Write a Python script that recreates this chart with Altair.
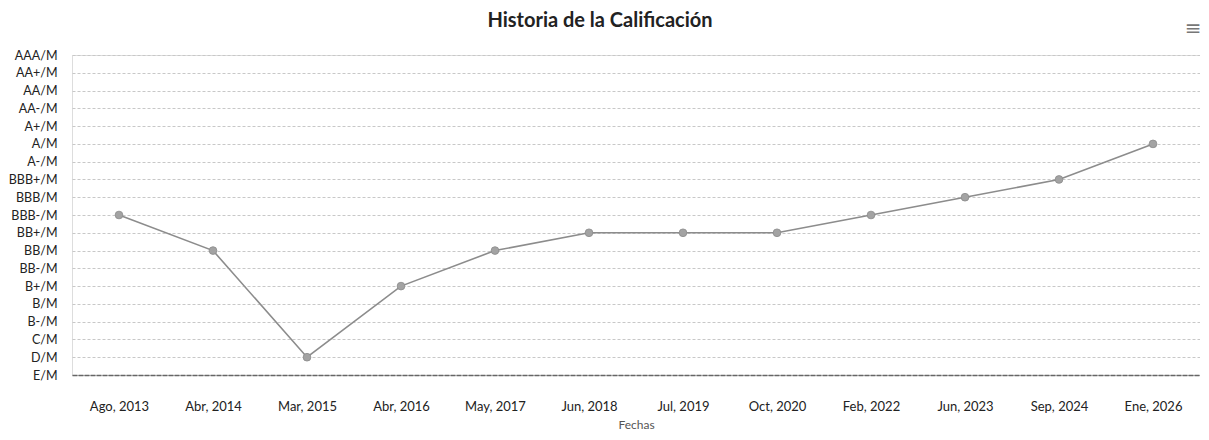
import altair as alt
import pandas as pd

fechas = ["Ago, 2013", "Abr, 2014", "Mar, 2015", "Abr, 2016", "May, 2017", "Jun, 2018",
          "Jul, 2019", "Oct, 2020", "Feb, 2022", "Jun, 2023", "Sep, 2024", "Ene, 2026"]
calificaciones = ["BBB-/M", "BB/M", "D/M", "B+/M", "BB/M", "BB+/M",
                  "BB+/M", "BB+/M", "BBB-/M", "BBB/M", "BBB+/M", "A/M"]
escala = ["AAA/M", "AA+/M", "AA/M", "AA-/M", "A+/M", "A/M", "A-/M", "BBB+/M", "BBB/M",
          "BBB-/M", "BB+/M", "BB/M", "BB-/M", "B+/M", "B/M", "B-/M", "C/M", "D/M", "E/M"]
titulo = "Historia de la Calificación"

df = pd.DataFrame({"Fecha": fechas, "Calificacion": calificaciones})

W, H = 1128, 320
FONT = "Lato"

base = alt.Chart(df).encode(
    x=alt.X("Fecha:O", sort=fechas,
            scale=alt.Scale(type="point", padding=0.5),
            axis=alt.Axis(title="Fechas", labelAngle=0, ticks=False, tickSize=0,
                          labelPadding=25, labelFontSize=13, labelColor="#222",
                          labelFont=FONT, titleFont=FONT, titleFontSize=12,
                          titleFontWeight="normal", titleColor="#555", titlePadding=6,
                          domainColor="#666", domainWidth=1.5, domainDash=[5, 1],
                          grid=False)),
    y=alt.Y("Calificacion:O", sort=escala,
            scale=alt.Scale(type="point", domain=escala, padding=0),
            axis=alt.Axis(title=None, ticks=False, tickSize=0, domain=False,
                          labelPadding=15, labelFontSize=12.5, labelColor="#222",
                          labelFont=FONT, grid=True, gridColor="#c8c8c8",
                          gridDash=[3, 2], gridWidth=1)),
)

line = base.mark_line(color="#8c8c8c", strokeWidth=1.6)
points = base.mark_point(filled=True, shape="circle", size=60, color="#a3a3a3", opacity=1,
                         stroke="#8c8c8c", strokeWidth=0.8)

menu = alt.Chart(pd.DataFrame({"t": ["≡"]})).mark_text(
    font="DejaVu Sans", fontSize=20, color="#777", align="center", baseline="middle"
).encode(x=alt.value(W - 7), y=alt.value(-26), text="t:N")

title = alt.Chart(pd.DataFrame({"t": [titulo]})).mark_text(
    font=FONT, fontSize=20, fontWeight="bold", color="#222", align="center",
    baseline="middle"
).encode(x=alt.value(W / 2 - 36), y=alt.value(-34), text="t:N")

chart = alt.layer(line, points, menu, title).properties(
    width=W, height=H,
    autosize=alt.AutoSizeParams(type="none"),
    padding={"left": 64, "top": 47, "right": 0, "bottom": 57},
).configure_view(stroke=None).configure(background="white")

chart.save("out.html", embed_options={"renderer": "svg", "actions": False})
